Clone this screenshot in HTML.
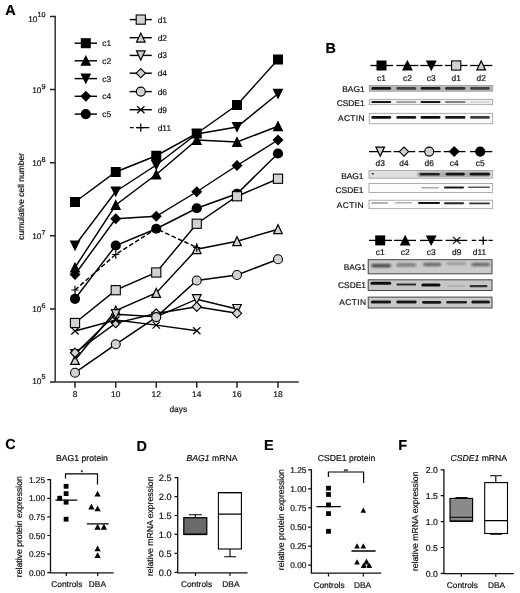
<!DOCTYPE html>
<html lang="en">
<head>
<meta charset="utf-8">
<title>Figure</title>
<style>
html,body{margin:0;padding:0;background:#fff;}
body{width:520px;height:593px;overflow:hidden;}
svg{display:block;font-family:"Liberation Sans",sans-serif;fill:#111;text-rendering:geometricPrecision;}
text{stroke:#111;stroke-width:0.2px;}
</style>
</head>
<body>
<svg width="520" height="593" viewBox="0 0 520 593">
<defs>
<filter id="b1" x="-5%" y="-200%" width="110%" height="500%"><feGaussianBlur stdDeviation="0.7 0.45"/></filter>
<filter id="b2" x="-5%" y="-200%" width="110%" height="500%"><feGaussianBlur stdDeviation="1.2 0.9"/></filter>
<filter id="soft" x="0" y="0" width="520" height="593" filterUnits="userSpaceOnUse"><feGaussianBlur stdDeviation="0.3"/></filter>
</defs>
<rect width="520" height="593" fill="#fff"/>
<g filter="url(#soft)">
<g id="panelA">
<path d="M55.2 15.7V382.8M54.5 382.05H298.8" stroke="#333" stroke-width="1.5" fill="none"/>
<path d="M50 16.5H55M50 89.6H55M50 162.7H55M50 235.8H55M50 308.9H55M50 382H55M75 382V387.8M115.75 382V387.8M156.25 382V387.8M196.75 382V387.8M237 382V387.8M278 382V387.8" stroke="#222" stroke-width="1.5" fill="none"/>
<text x="45.6" y="21.6" font-size="8.3" text-anchor="end">10<tspan dx="0.2" dy="-4.2" font-size="7.2">10</tspan></text>
<text x="45.6" y="93.1" font-size="8.3" text-anchor="end">10<tspan dx="0.2" dy="-4.2" font-size="7.2">9</tspan></text>
<text x="45.6" y="166.2" font-size="8.3" text-anchor="end">10<tspan dx="0.2" dy="-4.2" font-size="7.2">8</tspan></text>
<text x="45.6" y="239.3" font-size="8.3" text-anchor="end">10<tspan dx="0.2" dy="-4.2" font-size="7.2">7</tspan></text>
<text x="45.6" y="312.4" font-size="8.3" text-anchor="end">10<tspan dx="0.2" dy="-4.2" font-size="7.2">6</tspan></text>
<text x="45.6" y="383.6" font-size="8.3" text-anchor="end">10<tspan dx="0.2" dy="-4.2" font-size="7.2">5</tspan></text>
<text x="75" y="397.2" font-size="8.4" text-anchor="middle">8</text>
<text x="115.75" y="397.2" font-size="8.4" text-anchor="middle">10</text>
<text x="156.25" y="397.2" font-size="8.4" text-anchor="middle">12</text>
<text x="196.75" y="397.2" font-size="8.4" text-anchor="middle">14</text>
<text x="237" y="397.2" font-size="8.4" text-anchor="middle">16</text>
<text x="278" y="397.2" font-size="8.4" text-anchor="middle">18</text>
<text x="178.3" y="412.2" font-size="8.4" text-anchor="middle">days</text>
<text transform="translate(23.8 196.3) rotate(-90)" font-size="8.5" text-anchor="middle">cumulative cell number</text>
<path d="M75 202L115.75 172L156.25 155.75L196.75 133.5L237 105L278 59.5" stroke="#000" stroke-width="1.45" fill="none"/>
<rect x="70" y="197" width="10" height="10" fill="#000"/>
<rect x="110.75" y="167" width="10" height="10" fill="#000"/>
<rect x="151.25" y="150.75" width="10" height="10" fill="#000"/>
<rect x="191.75" y="128.5" width="10" height="10" fill="#000"/>
<rect x="232" y="100" width="10" height="10" fill="#000"/>
<rect x="273" y="54.5" width="10" height="10" fill="#000"/>
<path d="M75 267.5L115.75 205L156.25 174.5L196.75 140L237 142L278 126.25" stroke="#000" stroke-width="1.45" fill="none"/>
<path d="M75 261.8L80.4 272.5H69.6Z" fill="#000"/>
<path d="M115.75 199.3L121.15 210H110.35Z" fill="#000"/>
<path d="M156.25 168.8L161.65 179.5H150.85Z" fill="#000"/>
<path d="M196.75 134.3L202.15 145H191.35Z" fill="#000"/>
<path d="M237 136.3L242.4 147H231.6Z" fill="#000"/>
<path d="M278 120.55L283.4 131.25H272.6Z" fill="#000"/>
<path d="M75 245.5L115.75 191.5L156.25 165L196.75 134L237 127L278 93.75" stroke="#000" stroke-width="1.45" fill="none"/>
<path d="M75 251.2L80.4 240.5H69.6Z" fill="#000"/>
<path d="M115.75 197.2L121.15 186.5H110.35Z" fill="#000"/>
<path d="M156.25 170.7L161.65 160H150.85Z" fill="#000"/>
<path d="M196.75 139.7L202.15 129H191.35Z" fill="#000"/>
<path d="M237 132.7L242.4 122H231.6Z" fill="#000"/>
<path d="M278 99.45L283.4 88.75H272.6Z" fill="#000"/>
<path d="M75 274.5L115.75 218.75L156.25 216.25L196.75 191.75L237 165.5L278 140" stroke="#000" stroke-width="1.45" fill="none"/>
<path d="M75 269L80.5 274.5L75 280L69.5 274.5Z" fill="#000"/>
<path d="M115.75 213.25L121.25 218.75L115.75 224.25L110.25 218.75Z" fill="#000"/>
<path d="M156.25 210.75L161.75 216.25L156.25 221.75L150.75 216.25Z" fill="#000"/>
<path d="M196.75 186.25L202.25 191.75L196.75 197.25L191.25 191.75Z" fill="#000"/>
<path d="M237 160L242.5 165.5L237 171L231.5 165.5Z" fill="#000"/>
<path d="M278 134.5L283.5 140L278 145.5L272.5 140Z" fill="#000"/>
<path d="M75 298.8L115.75 245.5L156.25 228.75L196.75 208.25L237 193.75L278 153.5" stroke="#000" stroke-width="1.45" fill="none"/>
<circle cx="75" cy="298.8" r="5.1" fill="#000"/>
<circle cx="115.75" cy="245.5" r="5.1" fill="#000"/>
<circle cx="156.25" cy="228.75" r="5.1" fill="#000"/>
<circle cx="196.75" cy="208.25" r="5.1" fill="#000"/>
<circle cx="237" cy="193.75" r="5.1" fill="#000"/>
<circle cx="278" cy="153.5" r="5.1" fill="#000"/>
<path d="M75 323L115.75 290.2L156.25 272.5L196.75 223.75L237 196.25L278 178.75" stroke="#000" stroke-width="1.45" fill="none"/>
<rect x="70.4" y="318.4" width="9.2" height="9.2" fill="#d2d2d2" stroke="#000" stroke-width="1.1"/>
<rect x="111.15" y="285.6" width="9.2" height="9.2" fill="#d2d2d2" stroke="#000" stroke-width="1.1"/>
<rect x="151.65" y="267.9" width="9.2" height="9.2" fill="#d2d2d2" stroke="#000" stroke-width="1.1"/>
<rect x="192.15" y="219.15" width="9.2" height="9.2" fill="#d2d2d2" stroke="#000" stroke-width="1.1"/>
<rect x="232.4" y="191.65" width="9.2" height="9.2" fill="#d2d2d2" stroke="#000" stroke-width="1.1"/>
<rect x="273.4" y="174.15" width="9.2" height="9.2" fill="#d2d2d2" stroke="#000" stroke-width="1.1"/>
<path d="M75 360L115.75 310.6L156.25 293L196.75 249.25L237 241.25L278 229.25" stroke="#000" stroke-width="1.45" fill="none"/>
<path d="M75 355.5L79.3 364.4H70.7Z" fill="#d2d2d2" stroke="#000" stroke-width="1.2" stroke-linejoin="miter"/>
<path d="M115.75 306.1L120.05 315H111.45Z" fill="#d2d2d2" stroke="#000" stroke-width="1.2" stroke-linejoin="miter"/>
<path d="M156.25 288.5L160.55 297.4H151.95Z" fill="#d2d2d2" stroke="#000" stroke-width="1.2" stroke-linejoin="miter"/>
<path d="M196.75 244.75L201.05 253.65H192.45Z" fill="#d2d2d2" stroke="#000" stroke-width="1.2" stroke-linejoin="miter"/>
<path d="M237 236.75L241.3 245.65H232.7Z" fill="#d2d2d2" stroke="#000" stroke-width="1.2" stroke-linejoin="miter"/>
<path d="M278 224.75L282.3 233.65H273.7Z" fill="#d2d2d2" stroke="#000" stroke-width="1.2" stroke-linejoin="miter"/>
<path d="M75 354L115.75 314.2L156.25 316.8L196.75 299.2L237 309" stroke="#000" stroke-width="1.45" fill="none"/>
<path d="M75 358.6L79.3 349.5H70.7Z" fill="#d2d2d2" stroke="#000" stroke-width="1.2" stroke-linejoin="miter"/>
<path d="M115.75 318.8L120.05 309.7H111.45Z" fill="#d2d2d2" stroke="#000" stroke-width="1.2" stroke-linejoin="miter"/>
<path d="M156.25 321.4L160.55 312.3H151.95Z" fill="#d2d2d2" stroke="#000" stroke-width="1.2" stroke-linejoin="miter"/>
<path d="M196.75 303.8L201.05 294.7H192.45Z" fill="#d2d2d2" stroke="#000" stroke-width="1.2" stroke-linejoin="miter"/>
<path d="M237 313.6L241.3 304.5H232.7Z" fill="#d2d2d2" stroke="#000" stroke-width="1.2" stroke-linejoin="miter"/>
<path d="M75 352.75L115.75 323.1L156.25 313.5L196.75 306.8L237 313.3" stroke="#000" stroke-width="1.45" fill="none"/>
<path d="M75 348.15L79.6 352.75L75 357.35L70.4 352.75Z" fill="#d2d2d2" stroke="#000" stroke-width="1.1"/>
<path d="M115.75 318.5L120.35 323.1L115.75 327.7L111.15 323.1Z" fill="#d2d2d2" stroke="#000" stroke-width="1.1"/>
<path d="M156.25 308.9L160.85 313.5L156.25 318.1L151.65 313.5Z" fill="#d2d2d2" stroke="#000" stroke-width="1.1"/>
<path d="M196.75 302.2L201.35 306.8L196.75 311.4L192.15 306.8Z" fill="#d2d2d2" stroke="#000" stroke-width="1.1"/>
<path d="M237 308.7L241.6 313.3L237 317.9L232.4 313.3Z" fill="#d2d2d2" stroke="#000" stroke-width="1.1"/>
<path d="M75 372.7L115.75 344.3L156.25 317.1L196.75 280.5L237 275L278 259.25" stroke="#000" stroke-width="1.45" fill="none"/>
<circle cx="75" cy="372.7" r="4.5" fill="#d2d2d2" stroke="#000" stroke-width="1.1"/>
<circle cx="115.75" cy="344.3" r="4.5" fill="#d2d2d2" stroke="#000" stroke-width="1.1"/>
<circle cx="156.25" cy="317.1" r="4.5" fill="#d2d2d2" stroke="#000" stroke-width="1.1"/>
<circle cx="196.75" cy="280.5" r="4.5" fill="#d2d2d2" stroke="#000" stroke-width="1.1"/>
<circle cx="237" cy="275" r="4.5" fill="#d2d2d2" stroke="#000" stroke-width="1.1"/>
<circle cx="278" cy="259.25" r="4.5" fill="#d2d2d2" stroke="#000" stroke-width="1.1"/>
<path d="M75 331L115.75 320L156.25 325.1L196.75 330.8" stroke="#000" stroke-width="1.45" fill="none"/>
<path d="M71.3 327.5L78.7 334.5M71.3 334.5L78.7 327.5" stroke="#000" stroke-width="1.2" fill="none"/>
<path d="M112.05 316.5L119.45 323.5M112.05 323.5L119.45 316.5" stroke="#000" stroke-width="1.2" fill="none"/>
<path d="M152.55 321.6L159.95 328.6M152.55 328.6L159.95 321.6" stroke="#000" stroke-width="1.2" fill="none"/>
<path d="M193.05 327.3L200.45 334.3M193.05 334.3L200.45 327.3" stroke="#000" stroke-width="1.2" fill="none"/>
<path d="M75 290L115.75 254.5L156.25 228.75L196.75 247.5" stroke="#000" stroke-width="1.45" fill="none" stroke-dasharray="4.6 2.4"/>
<path d="M71.4 290H78.6M75 285.8V294.2" stroke="#000" stroke-width="1.2" fill="none"/>
<path d="M112.15 254.5H119.35M115.75 250.3V258.7" stroke="#000" stroke-width="1.2" fill="none"/>
<path d="M152.65 228.75H159.85M156.25 224.55V232.95" stroke="#000" stroke-width="1.2" fill="none"/>
<path d="M193.15 247.5H200.35M196.75 243.3V251.7" stroke="#000" stroke-width="1.2" fill="none"/>
<path d="M74.6 43.2H97" stroke="#000" stroke-width="1.45"/>
<rect x="80.8" y="38.2" width="10" height="10" fill="#000"/>
<text x="102.3" y="46.1" font-size="8.4" text-anchor="start">c1</text>
<path d="M74.6 60.8H97" stroke="#000" stroke-width="1.45"/>
<path d="M85.8 55.1L91.2 65.8H80.4Z" fill="#000"/>
<text x="102.3" y="63.7" font-size="8.4" text-anchor="start">c2</text>
<path d="M74.6 78.6H97" stroke="#000" stroke-width="1.45"/>
<path d="M85.8 84.3L91.2 73.6H80.4Z" fill="#000"/>
<text x="102.3" y="81.5" font-size="8.4" text-anchor="start">c3</text>
<path d="M74.6 96.3H97" stroke="#000" stroke-width="1.45"/>
<path d="M85.8 90.8L91.3 96.3L85.8 101.8L80.3 96.3Z" fill="#000"/>
<text x="102.3" y="99.2" font-size="8.4" text-anchor="start">c4</text>
<path d="M74.6 114.1H97" stroke="#000" stroke-width="1.45"/>
<circle cx="85.8" cy="114.1" r="5.1" fill="#000"/>
<text x="102.3" y="117" font-size="8.4" text-anchor="start">c5</text>
<path d="M129.7 19.6H151.8" stroke="#000" stroke-width="1.45"/>
<rect x="136.2" y="15" width="9.2" height="9.2" fill="#d2d2d2" stroke="#000" stroke-width="1.1"/>
<text x="157.7" y="22.5" font-size="8.4" text-anchor="start">d1</text>
<path d="M129.7 37.7H151.8" stroke="#000" stroke-width="1.45"/>
<path d="M140.8 33.2L145.1 42.1H136.5Z" fill="#d2d2d2" stroke="#000" stroke-width="1.2" stroke-linejoin="miter"/>
<text x="157.7" y="40.6" font-size="8.4" text-anchor="start">d2</text>
<path d="M129.7 55.4H151.8" stroke="#000" stroke-width="1.45"/>
<path d="M140.8 60L145.1 50.9H136.5Z" fill="#d2d2d2" stroke="#000" stroke-width="1.2" stroke-linejoin="miter"/>
<text x="157.7" y="58.3" font-size="8.4" text-anchor="start">d3</text>
<path d="M129.7 73.2H151.8" stroke="#000" stroke-width="1.45"/>
<path d="M140.8 68.6L145.4 73.2L140.8 77.8L136.2 73.2Z" fill="#d2d2d2" stroke="#000" stroke-width="1.1"/>
<text x="157.7" y="76.1" font-size="8.4" text-anchor="start">d4</text>
<path d="M129.7 91.6H151.8" stroke="#000" stroke-width="1.45"/>
<circle cx="140.8" cy="91.6" r="4.5" fill="#d2d2d2" stroke="#000" stroke-width="1.1"/>
<text x="157.7" y="94.5" font-size="8.4" text-anchor="start">d6</text>
<path d="M129.7 109.7H151.8" stroke="#000" stroke-width="1.45"/>
<path d="M137.1 106.2L144.5 113.2M137.1 113.2L144.5 106.2" stroke="#000" stroke-width="1.2" fill="none"/>
<text x="157.7" y="112.6" font-size="8.4" text-anchor="start">d9</text>
<path d="M129.9 127.6H133.6M136 127.6H149.4" stroke="#000" stroke-width="1.45"/>
<path d="M137.2 127.6H144.4M140.8 123.4V131.8" stroke="#000" stroke-width="1.2" fill="none"/>
<text x="157.7" y="130.5" font-size="8.4" text-anchor="start">d11</text>
</g>
<g id="panelB">
<path d="M370.4 65.5H393" stroke="#000" stroke-width="1.3"/>
<rect x="376.5" y="60.5" width="10" height="10" fill="#000"/>
<text x="381.5" y="81" font-size="8.4" text-anchor="middle">c1</text>
<path d="M396.3 65.5H418.5" stroke="#000" stroke-width="1.3"/>
<path d="M407.4 59.8L412.8 70.5H402Z" fill="#000"/>
<text x="407.4" y="81" font-size="8.4" text-anchor="middle">c2</text>
<path d="M420.3 65.5H442.5" stroke="#000" stroke-width="1.3"/>
<path d="M431.3 71.2L436.7 60.5H425.9Z" fill="#000"/>
<text x="431.3" y="81" font-size="8.4" text-anchor="middle">c3</text>
<path d="M445 65.5H467.5" stroke="#000" stroke-width="1.3"/>
<rect x="451.6" y="60.9" width="9.2" height="9.2" fill="#d2d2d2" stroke="#000" stroke-width="1.1"/>
<text x="456.2" y="81" font-size="8.4" text-anchor="middle">d1</text>
<path d="M470 65.5H492.3" stroke="#000" stroke-width="1.3"/>
<path d="M481.2 61L485.5 69.9H476.9Z" fill="#d2d2d2" stroke="#000" stroke-width="1.2" stroke-linejoin="miter"/>
<text x="481.2" y="81" font-size="8.4" text-anchor="middle">d2</text>
<rect x="369.2" y="85.5" width="123.5" height="5.7" fill="#b9b9b9" stroke="#9a9a9a" stroke-width="0.8"/>
<g filter="url(#b1)" fill="#111"><rect x="371.3" y="87.1" width="19.9" height="2.6" rx="1.3" opacity="0.95"/><rect x="396.3" y="87.1" width="19.9" height="2.6" rx="1.3" opacity="0.7"/><rect x="420.5" y="87.1" width="20" height="2.6" rx="1.3" opacity="0.9"/><rect x="445" y="87.1" width="20.5" height="2.6" rx="1.3" opacity="0.8"/><rect x="470" y="87.1" width="19.8" height="2.6" rx="1.3" opacity="0.7"/></g>
<rect x="369.2" y="99.3" width="123.5" height="5.4" fill="#efefef" stroke="#999" stroke-width="0.8"/>
<g filter="url(#b1)" fill="#111"><rect x="371.3" y="101" width="19.9" height="2" rx="1" opacity="0.95"/><rect x="396.3" y="101" width="19.9" height="2" rx="1" opacity="0.35"/><rect x="420.5" y="101" width="20" height="2" rx="1" opacity="0.95"/><rect x="445" y="101" width="20.5" height="2" rx="1" opacity="0.5"/><rect x="470" y="101" width="19.8" height="2" rx="1" opacity="0.1"/></g>
<rect x="369.2" y="113.3" width="123.5" height="10.5" fill="#fbfbfb" stroke="#999" stroke-width="0.8"/>
<g filter="url(#b1)" fill="#111"><rect x="371.3" y="116.1" width="19.9" height="2.6" rx="1.3" opacity="1"/><rect x="396.3" y="116.1" width="19.9" height="2.6" rx="1.3" opacity="0.95"/><rect x="420.5" y="116.1" width="20" height="2.6" rx="1.3" opacity="1"/><rect x="445" y="116.1" width="20.5" height="2.6" rx="1.3" opacity="0.95"/><rect x="470" y="116.1" width="19.8" height="2.6" rx="1.3" opacity="0.8"/></g>
<text x="364.6" y="91.9" font-size="8.4" text-anchor="end">BAG1</text>
<text x="364.6" y="106" font-size="8.4" text-anchor="end">CSDE1</text>
<text x="365" y="120.8" font-size="8.4" text-anchor="end" letter-spacing="0.38">ACTIN</text>
<path d="M369 151.6H391.2" stroke="#000" stroke-width="1.3"/>
<path d="M380.2 156.2L384.5 147.1H375.9Z" fill="#d2d2d2" stroke="#000" stroke-width="1.2" stroke-linejoin="miter"/>
<text x="380.2" y="166.3" font-size="8.4" text-anchor="middle">d3</text>
<path d="M393.5 151.6H415.2" stroke="#000" stroke-width="1.3"/>
<path d="M404 147L408.6 151.6L404 156.2L399.4 151.6Z" fill="#d2d2d2" stroke="#000" stroke-width="1.1"/>
<text x="404" y="166.3" font-size="8.4" text-anchor="middle">d4</text>
<path d="M418.7 151.6H440.8" stroke="#000" stroke-width="1.3"/>
<circle cx="429.2" cy="151.6" r="4.5" fill="#d2d2d2" stroke="#000" stroke-width="1.1"/>
<text x="429.2" y="166.3" font-size="8.4" text-anchor="middle">d6</text>
<path d="M443.7 151.6H465.4" stroke="#000" stroke-width="1.3"/>
<path d="M454.2 146.1L459.7 151.6L454.2 157.1L448.7 151.6Z" fill="#000"/>
<text x="454.2" y="166.3" font-size="8.4" text-anchor="middle">c4</text>
<path d="M470 151.6H492.3" stroke="#000" stroke-width="1.3"/>
<circle cx="480.2" cy="151.6" r="5.1" fill="#000"/>
<text x="480.2" y="166.3" font-size="8.4" text-anchor="middle">c5</text>
<rect x="369" y="170.6" width="123.7" height="7.6" fill="#dedede" stroke="#999" stroke-width="0.8"/>
<g filter="url(#b1)" fill="#111"><rect x="417" y="171.55" width="74" height="5.5" rx="2.75" fill="#555" opacity="0.35"/><rect x="371.5" y="173" width="2.5" height="1.6" rx="0.8" opacity="0.8"/><rect x="419.6" y="173" width="20.2" height="2.6" rx="1.3" opacity="0.9"/><rect x="445.6" y="172.8" width="19.2" height="2.8" rx="1.4" opacity="0.95"/><rect x="469.6" y="172.8" width="20.2" height="2.8" rx="1.4" opacity="0.95"/></g>
<rect x="369" y="183.4" width="123.7" height="9.2" fill="#fcfcfc" stroke="#999" stroke-width="0.8"/>
<g filter="url(#b1)" fill="#111"><rect x="421" y="187.05" width="18" height="1.5" rx="0.75" opacity="0.35"/><rect x="444" y="186.4" width="20" height="2" rx="1" opacity="0.95"/><rect x="468" y="186.4" width="22" height="1.6" rx="0.8" opacity="0.7"/></g>
<rect x="369" y="200.2" width="123.7" height="8.5" fill="#fcfcfc" stroke="#999" stroke-width="0.8"/>
<g filter="url(#b1)" fill="#111"><rect x="371" y="202.25" width="17" height="1.5" rx="0.75" opacity="0.4"/><rect x="395" y="202.1" width="17" height="1.4" rx="0.7" opacity="0.3"/><rect x="418" y="202" width="22" height="2" rx="1" opacity="0.95"/><rect x="444" y="202.2" width="20" height="2" rx="1" opacity="0.9"/><rect x="469" y="202.4" width="21" height="1.8" rx="0.9" opacity="0.85"/></g>
<text x="363.5" y="178.8" font-size="8.4" text-anchor="end">BAG1</text>
<text x="363.5" y="192.7" font-size="8.4" text-anchor="end">CSDE1</text>
<text x="363.9" y="207.7" font-size="8.4" text-anchor="end" letter-spacing="0.38">ACTIN</text>
<path d="M369 240.4H392" stroke="#000" stroke-width="1.3"/>
<rect x="375.2" y="235.4" width="10" height="10" fill="#000"/>
<text x="380.2" y="254.8" font-size="8.4" text-anchor="middle">c1</text>
<path d="M394 240.4H416" stroke="#000" stroke-width="1.3"/>
<path d="M405.2 234.7L410.6 245.4H399.8Z" fill="#000"/>
<text x="405.2" y="254.8" font-size="8.4" text-anchor="middle">c2</text>
<path d="M420 240.4H442.3" stroke="#000" stroke-width="1.3"/>
<path d="M431.2 246.1L436.6 235.4H425.8Z" fill="#000"/>
<text x="431.2" y="254.8" font-size="8.4" text-anchor="middle">c3</text>
<path d="M445.6 240.4H467.3" stroke="#000" stroke-width="1.3"/>
<path d="M453 236.9L460.4 243.9M453 243.9L460.4 236.9" stroke="#000" stroke-width="1.2" fill="none"/>
<text x="456.7" y="254.8" font-size="8.4" text-anchor="middle">d9</text>
<path d="M471.7 240.4H476.3M478.6 240.4H487.2M488.5 240.4H492.8M483.2 236.5V244.7" stroke="#000" stroke-width="1.3" fill="none"/>
<text x="479.4" y="254.8" font-size="8.4" text-anchor="middle">d11</text>
<rect x="368.2" y="259.7" width="123.8" height="14.1" fill="#cbcbcb" stroke="#444" stroke-width="1"/>
<g filter="url(#b2)" fill="#111"><rect x="371.3" y="263.9" width="19.9" height="3.4" rx="1.7" opacity="0.75"/><rect x="396.3" y="263.5" width="19.9" height="3" rx="1.5" opacity="0.5"/><rect x="423" y="263.1" width="18.2" height="3" rx="1.5" opacity="0.6"/><rect x="446.3" y="262.5" width="19.9" height="2.6" rx="1.3" opacity="0.28"/><rect x="471.3" y="263.1" width="18.7" height="3" rx="1.5" opacity="0.6"/></g>
<rect x="368.2" y="279.8" width="123.8" height="10.7" fill="#c6c6c6" stroke="#444" stroke-width="1"/>
<g filter="url(#b1)" fill="#111"><rect x="370.5" y="281.8" width="20.7" height="3" rx="1.5" opacity="1"/><rect x="396.3" y="283.4" width="19.9" height="2.2" rx="1.1" opacity="0.85"/><rect x="421.3" y="283.5" width="19.2" height="3" rx="1.5" opacity="1"/><rect x="447" y="285" width="18" height="2" rx="1" opacity="0.1"/><rect x="469.5" y="285.1" width="18" height="2.2" rx="1.1" opacity="0.8"/></g>
<rect x="368.2" y="297.1" width="123.8" height="10.9" fill="#c8c8c8" stroke="#444" stroke-width="1"/>
<g filter="url(#b1)" fill="#111"><rect x="370.8" y="300.5" width="20.4" height="3" rx="1.5" opacity="0.95"/><rect x="396.3" y="300.6" width="20.4" height="2.8" rx="1.4" opacity="0.95"/><rect x="422" y="300.9" width="19.2" height="2.8" rx="1.4" opacity="0.95"/><rect x="446.3" y="301" width="20.7" height="2.6" rx="1.3" opacity="0.9"/><rect x="471.3" y="300.5" width="18.7" height="3" rx="1.5" opacity="0.95"/></g>
<text x="366" y="270.2" font-size="8.4" text-anchor="end">BAG1</text>
<text x="366" y="287.5" font-size="8.4" text-anchor="end">CSDE1</text>
<text x="366.4" y="305.4" font-size="8.4" text-anchor="end" letter-spacing="0.38">ACTIN</text>
</g>
<g id="panelsCDEF">
<path d="M50.5 479.1V572.8M49.8 572.8H113.6" stroke="#111" stroke-width="1.3" fill="none"/>
<path d="M47.3 479.7H50.5M47.3 498.3H50.5M47.3 516.9H50.5M47.3 535.5H50.5M47.3 554.1H50.5M47.3 572.7H50.5M66.3 572.8V576M97.7 572.8V576" stroke="#111" stroke-width="1.2" fill="none"/>
<text x="45.2" y="482.71" font-size="8.4" text-anchor="end">1.25</text>
<text x="45.2" y="501.31" font-size="8.4" text-anchor="end">1.00</text>
<text x="45.2" y="519.91" font-size="8.4" text-anchor="end">0.75</text>
<text x="45.2" y="538.51" font-size="8.4" text-anchor="end">0.50</text>
<text x="45.2" y="557.11" font-size="8.4" text-anchor="end">0.25</text>
<text x="45.2" y="575.71" font-size="8.4" text-anchor="end">0.00</text>
<text x="66.8" y="586.5" font-size="8.4" text-anchor="middle">Controls</text>
<text x="97.4" y="586.5" font-size="8.4" text-anchor="middle">DBA</text>
<text x="82" y="461" font-size="8.65" text-anchor="middle">BAG1 protein</text>
<text transform="translate(22.1 526.65) rotate(-90)" font-size="8.67" text-anchor="middle">relative protein expression</text>
<g fill="#000"><rect x="63.7" y="483.9" width="4.8" height="4.8"/><rect x="63.7" y="491.2" width="4.8" height="4.8"/><rect x="57.3" y="495.8" width="4.8" height="4.8"/><rect x="63.7" y="499.8" width="4.8" height="4.8"/><rect x="63.7" y="516.8" width="4.8" height="4.8"/><path d="M97.6 490.65L100.75 496.45H94.45Z"/><path d="M91.4 503.65L94.55 509.45H88.25Z"/><path d="M97.6 505.55L100.75 511.35H94.45Z"/><path d="M97.6 523.85L100.75 529.65H94.45Z"/><path d="M103.9 523.85L107.05 529.65H100.75Z"/><path d="M97.6 545.45L100.75 551.25H94.45Z"/><path d="M97.6 552.15L100.75 557.95H94.45Z"/></g>
<path d="M55.4 500.2H77.4M86.8 523.9H108.7" stroke="#000" stroke-width="1.3"/>
<path d="M65.5 478.5V473.9H97.5V484.4" stroke="#000" stroke-width="1.2" fill="none"/>
<text x="81.9" y="473.6" font-size="5.5" text-anchor="middle">*</text>
<path d="M177.7 477V572.9M177 572.9H247.6" stroke="#111" stroke-width="1.3" fill="none"/>
<path d="M174.5 477.6H177.7M174.5 496.55H177.7M174.5 515.5H177.7M174.5 534.45H177.7M174.5 553.4H177.7M174.5 572.35H177.7M195.5 572.9V576.1M230 572.9V576.1" stroke="#111" stroke-width="1.2" fill="none"/>
<text x="171.6" y="480.89" font-size="9.2" text-anchor="end">2.5</text>
<text x="171.6" y="499.84" font-size="9.2" text-anchor="end">2.0</text>
<text x="171.6" y="518.79" font-size="9.2" text-anchor="end">1.5</text>
<text x="171.6" y="537.74" font-size="9.2" text-anchor="end">1.0</text>
<text x="171.6" y="556.69" font-size="9.2" text-anchor="end">0.5</text>
<text x="171.6" y="575.64" font-size="9.2" text-anchor="end">0.0</text>
<text x="196.5" y="586.8" font-size="8.4" text-anchor="middle">Controls</text>
<text x="230.9" y="586.8" font-size="8.4" text-anchor="middle">DBA</text>
<text x="212" y="461" font-size="8.65" text-anchor="middle"><tspan font-style="italic">BAG1</tspan> mRNA</text>
<text transform="translate(153.2 526.3) rotate(-90)" font-size="8.67" text-anchor="middle">relative mRNA expression</text>
<path d="M195.4 517.3V514.7M188.8 514.7H202" stroke="#000" stroke-width="1.1" fill="none"/>
<rect x="183.8" y="517.7" width="23" height="16.8" fill="#6a6a6a" stroke="#000" stroke-width="1.2"/>
<path d="M183.8 534.3H206.8" stroke="#000" stroke-width="1.5"/>
<path d="M230 549V556.8M224.2 556.8H236.2" stroke="#000" stroke-width="1.1" fill="none"/>
<rect x="218.4" y="492.6" width="23" height="56.4" fill="#fff" stroke="#000" stroke-width="1.1"/>
<path d="M218.4 492.6H241.4M218.4 514.1H241.4" stroke="#000" stroke-width="1.25"/>
<path d="M311.4 469.2V573.2M310.7 573.2H381.3" stroke="#111" stroke-width="1.3" fill="none"/>
<path d="M308.2 469.8H311.4M308.2 488.88H311.4M308.2 507.96H311.4M308.2 527.04H311.4M308.2 546.12H311.4M308.2 565.2H311.4M328.5 573.2V576.4M363.3 573.2V576.4" stroke="#111" stroke-width="1.2" fill="none"/>
<text x="306.5" y="472.81" font-size="8.4" text-anchor="end">1.25</text>
<text x="306.5" y="491.89" font-size="8.4" text-anchor="end">1.00</text>
<text x="306.5" y="510.97" font-size="8.4" text-anchor="end">0.75</text>
<text x="306.5" y="530.05" font-size="8.4" text-anchor="end">0.50</text>
<text x="306.5" y="549.13" font-size="8.4" text-anchor="end">0.25</text>
<text x="306.5" y="568.21" font-size="8.4" text-anchor="end">0.00</text>
<text x="329" y="588" font-size="8.4" text-anchor="middle">Controls</text>
<text x="362.6" y="588" font-size="8.4" text-anchor="middle">DBA</text>
<text x="346.5" y="461" font-size="8.65" text-anchor="middle">CSDE1 protein</text>
<text transform="translate(283.5 519.7) rotate(-90)" font-size="8.67" text-anchor="middle">relative protein expression</text>
<g fill="#000"><rect x="326.1" y="485.8" width="4.8" height="4.8"/><rect x="326.1" y="492.1" width="4.8" height="4.8"/><rect x="326.1" y="502.5" width="4.8" height="4.8"/><rect x="326.1" y="511.2" width="4.8" height="4.8"/><rect x="326.1" y="528.9" width="4.8" height="4.8"/><path d="M363.3 507.6L366.1 512.75H360.5Z"/><path d="M357 543.3L359.8 548.45H354.2Z"/><path d="M363.3 543.3L366.1 548.45H360.5Z"/><path d="M357 559.3L359.8 564.45H354.2Z"/><path d="M366.45 558.6L369.25 563.75H363.65Z"/><path d="M363.5 562.8L366.3 567.95H360.7Z"/><path d="M369.4 562.8L372.2 567.95H366.6Z"/><path d="M364 563.5H369V567H364Z"/><path d="M365.1 564.4H367.8L366.45 566.9Z" fill="#fff"/></g>
<path d="M316.4 506.7H340.8M351.5 551H375.6" stroke="#000" stroke-width="1.3"/>
<path d="M328.4 477V472H363.6V483.1" stroke="#000" stroke-width="1.2" fill="none"/>
<text x="345.8" y="472.6" font-size="5.5" text-anchor="middle">**</text>
<path d="M443.9 469.2V573.6M443.2 573.6H513.8" stroke="#111" stroke-width="1.3" fill="none"/>
<path d="M440.7 469.8H443.9M440.7 495.7H443.9M440.7 521.6H443.9M440.7 547.5H443.9M440.7 573.4H443.9M461.3 573.6V576.8M495.8 573.6V576.8" stroke="#111" stroke-width="1.2" fill="none"/>
<text x="437.9" y="472.91" font-size="8.7" text-anchor="end">2.0</text>
<text x="437.9" y="498.81" font-size="8.7" text-anchor="end">1.5</text>
<text x="437.9" y="524.71" font-size="8.7" text-anchor="end">1.0</text>
<text x="437.9" y="550.61" font-size="8.7" text-anchor="end">0.5</text>
<text x="437.9" y="576.51" font-size="8.7" text-anchor="end">0.0</text>
<text x="462.3" y="588" font-size="8.4" text-anchor="middle">Controls</text>
<text x="496.6" y="588" font-size="8.4" text-anchor="middle">DBA</text>
<text x="478.8" y="461" font-size="8.65" text-anchor="middle"><tspan font-style="italic">CSDE1</tspan> mRNA</text>
<text transform="translate(418.1 521.3) rotate(-90)" font-size="8.67" text-anchor="middle">relative mRNA expression</text>
<rect x="450" y="498.4" width="22.6" height="22.8" fill="#8a8a8a" stroke="#000" stroke-width="1.1"/>
<path d="M455.5 497.8H467.5" stroke="#000" stroke-width="1.45"/>
<path d="M450 517.2H472.6M450 521.1H472.6" stroke="#000" stroke-width="1.1"/>
<path d="M495.8 482.5V475.8M490 475.8H502" stroke="#000" stroke-width="1.1" fill="none"/>
<rect x="484.7" y="482.6" width="22.8" height="50.9" fill="#fff" stroke="#000" stroke-width="1.1"/>
<path d="M484.7 520.6H507.5M490 534.1H502" stroke="#000" stroke-width="1.1"/>
</g>
<g id="letters">
<text x="5.2" y="14.7" font-size="14.4" font-weight="bold" fill="#000" stroke="#000" stroke-width="0.2">A</text>
<text x="325.6" y="53.3" font-size="14.4" font-weight="bold" fill="#000" stroke="#000" stroke-width="0.2">B</text>
<text x="5.2" y="448.8" font-size="14.4" font-weight="bold" fill="#000" stroke="#000" stroke-width="0.2">C</text>
<text x="136.5" y="451.3" font-size="14.4" font-weight="bold" fill="#000" stroke="#000" stroke-width="0.2">D</text>
<text x="263.9" y="450.1" font-size="14.4" font-weight="bold" fill="#000" stroke="#000" stroke-width="0.2">E</text>
<text x="398.3" y="450.1" font-size="14.4" font-weight="bold" fill="#000" stroke="#000" stroke-width="0.2">F</text>
</g>
</g>
</svg>
</body>
</html>
